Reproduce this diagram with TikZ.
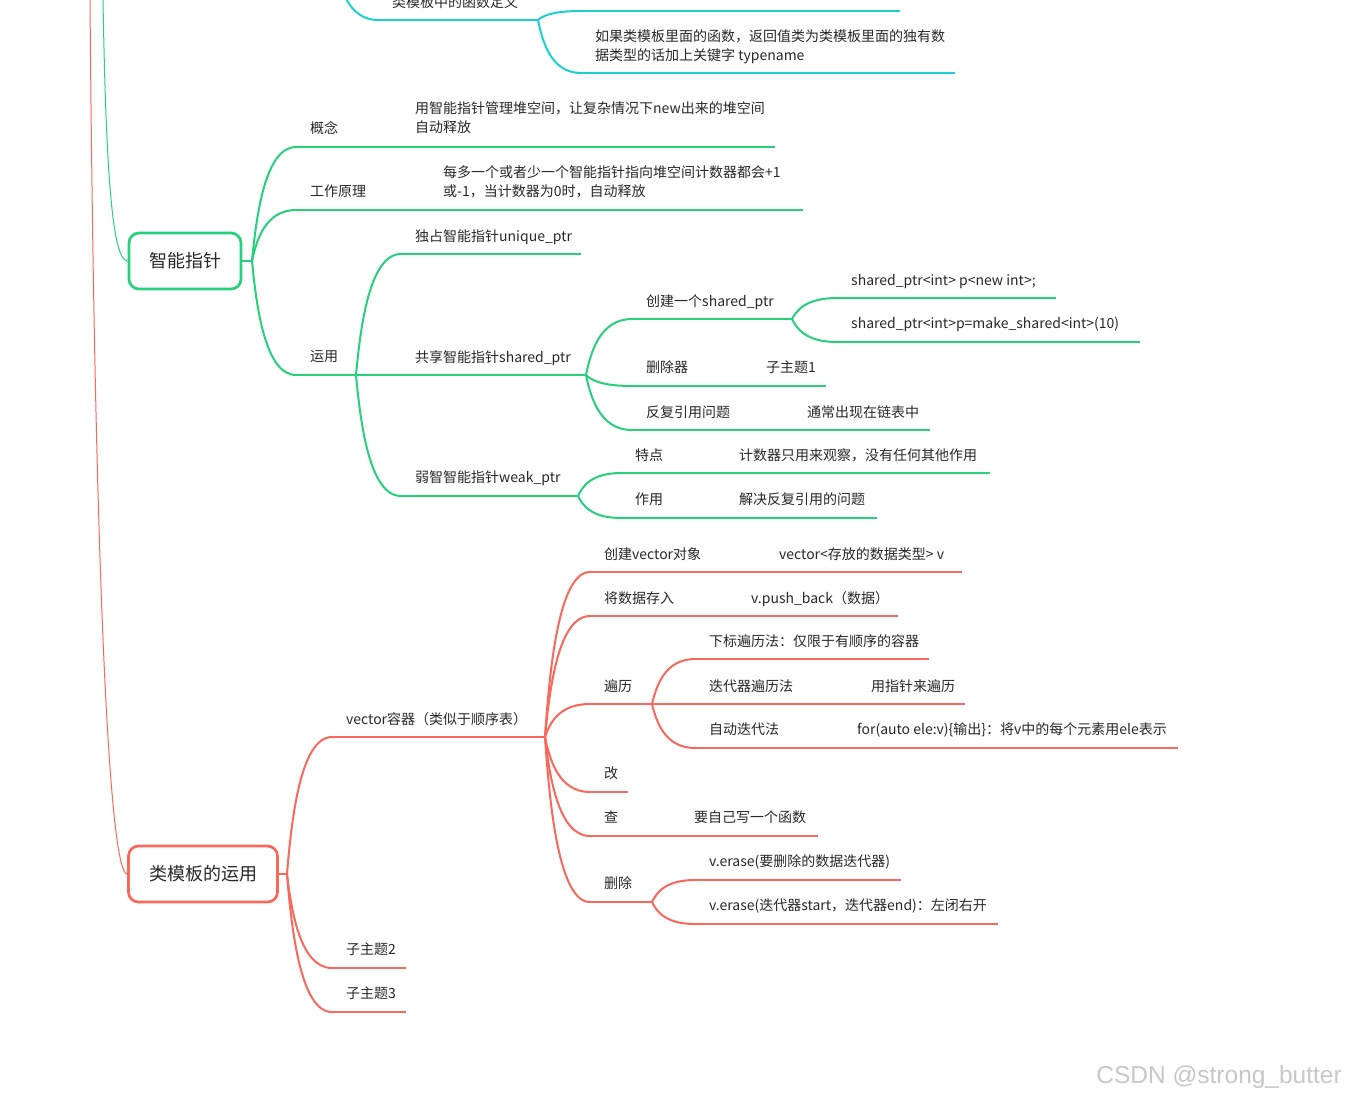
\documentclass[tikz,border=0pt]{standalone}
\usepackage{fontspec}
\setmainfont{Noto Sans CJK SC}
\newfontfamily\wmfont{Liberation Sans}
\usetikzlibrary{calc}
\definecolor{mgreen}{RGB}{38,208,124}
\definecolor{mred}{RGB}{250,104,92}
\definecolor{mcyan}{RGB}{28,208,210}
\definecolor{mtext}{RGB}{40,40,40}
\definecolor{wmgray}{RGB}{200,200,200}
\newcommand\mmlink[3]{\draw[#1] let \p1=(#2), \p2=(#3) in (\p1) .. controls ({\x1+0.1*(\x2-\x1)},{\y1+0.4*(\y2-\y1)}) and ({\x1+0.3*(\x2-\x1)},{\y2}) .. (\p2);}
\begin{document}
\begin{tikzpicture}[x=1pt,y=-1pt,
  tx/.style={anchor=base west, inner sep=0pt, text=mtext, font=\fontsize{14}{19}\selectfont},
  bx/.style={draw, rounded corners=10pt, line width=2.7pt, fill=white, text=mtext, font=\fontsize{18}{22}\selectfont, minimum height=56pt, inner sep=0pt},
  gline/.style={draw=mgreen, line width=2pt},
  rline/.style={draw=mred, line width=2pt},
  cline/.style={draw=mcyan, line width=2pt},
  rootg/.style={draw=mgreen, line width=1pt},
  rootr/.style={draw=mred, line width=1pt}]
\useasboundingbox (0,0) rectangle (1346,1096);
\fill[white] (0,0) rectangle (1346,1096);
\clip (0,0) rectangle (1346,1096);

% ---------- main boxes ----------
\node[bx, draw=mgreen, minimum width=112pt] (G) at (185,261) {智能指针};
\node[bx, draw=mred, minimum width=149pt] (R) at (203,874) {类模板的运用};

% ---------- root connectors ----------
\coordinate (rootG) at (103,0);
\coordinate (rootR) at (90,0);
\draw[rootg] (rootG) .. controls (106,170) and (112,261) .. (G.west);
\draw[rootr] (rootR) .. controls (95,600) and (110,874) .. (R.west);

% ---------- cyan (top, partial) ----------
\coordinate (cP) at (334,-40);
\coordinate (cf1) at (378,20); \coordinate (cf2) at (538,20);
\coordinate (cu1) at (581,11); \coordinate (cu2) at (900,11);
\coordinate (cd1) at (581,73); \coordinate (cd2) at (955,73);
\mmlink{cline}{cP}{cf1} \draw[cline] (cf1) -- (cf2);
\mmlink{cline}{cf2}{cu1} \draw[cline] (cu1) -- (cu2);
\mmlink{cline}{cf2}{cd1} \draw[cline] (cd1) -- (cd2);
\node[tx] (cft) at (392,7) {类模板中的函数定义};
\node[tx] (cdt1) at (595,41) {如果类模板里面的函数，返回值类为类模板里面的独有数};
\node[tx] (cdt2) at (595,60) {据类型的话加上关键字 typename};

% ---------- green: 智能指针 ----------
\coordinate (gB) at (252,261);
\draw[gline] (G.east) -- (gB);
\coordinate (gk1) at (296,147); \coordinate (gk2) at (775,147);
\coordinate (gg1) at (296,210); \coordinate (gg2) at (803,210);
\coordinate (gy1) at (296,375); \coordinate (gy2) at (356,375);
\mmlink{gline}{gB}{gk1} \draw[gline] (gk1) -- (gk2);
\mmlink{gline}{gB}{gg1} \draw[gline] (gg1) -- (gg2);
\mmlink{gline}{gB}{gy1} \draw[gline] (gy1) -- (gy2);
\node[tx] (gkt) at (310,133) {概念};
\node[tx] (gkc1) at (415,113) {用智能指针管理堆空间，让复杂情况下new出来的堆空间};
\node[tx] (gkc2) at (415,132) {自动释放};
\node[tx] (ggt) at (310,196) {工作原理};
\node[tx] (ggc1) at (443,177) {每多一个或者少一个智能指针指向堆空间计数器都会+1};
\node[tx] (ggc2) at (443,196) {或-1，当计数器为0时，自动释放};
\node[tx] (gyt) at (310,361) {运用};

\coordinate (gd1) at (401,254); \coordinate (gd2) at (581,254);
\coordinate (gs1) at (401,375); \coordinate (gs2) at (586,375);
\coordinate (gw1) at (401,496); \coordinate (gw2) at (578,496);
\mmlink{gline}{gy2}{gd1} \draw[gline] (gd1) -- (gd2);
\draw[gline] (gy2) -- (gs1) -- (gs2);
\mmlink{gline}{gy2}{gw1} \draw[gline] (gw1) -- (gw2);
\node[tx] (gdt) at (415,241) {独占智能指针unique\_ptr};
\node[tx] (gst) at (415,362) {共享智能指针shared\_ptr};
\node[tx] (gwt) at (415,482) {弱智智能指针weak\_ptr};

\coordinate (gc1) at (632,319); \coordinate (gc2) at (792,319);
\coordinate (gl1) at (632,386); \coordinate (gl2) at (826,386);
\coordinate (gf1) at (632,430); \coordinate (gf2) at (930,430);
\mmlink{gline}{gs2}{gc1} \draw[gline] (gc1) -- (gc2);
\mmlink{gline}{gs2}{gl1} \draw[gline] (gl1) -- (gl2);
\mmlink{gline}{gs2}{gf1} \draw[gline] (gf1) -- (gf2);
\node[tx] (gct) at (646,306) {创建一个shared\_ptr};
\node[tx] (glt) at (646,372) {删除器};
\node[tx] (glc) at (766,372) {子主题1};
\node[tx] (gft) at (646,417) {反复引用问题};
\node[tx] (gfc) at (807,417) {通常出现在链表中};

\coordinate (sp1a) at (837,298); \coordinate (sp1b) at (1056,298);
\coordinate (sp2a) at (837,342); \coordinate (sp2b) at (1140,342);
\mmlink{gline}{gc2}{sp1a} \draw[gline] (sp1a) -- (sp1b);
\mmlink{gline}{gc2}{sp2a} \draw[gline] (sp2a) -- (sp2b);
\node[tx] (sp1t) at (851,285) {shared\_ptr<int> p<new int>;};
\node[tx] (sp2t) at (851,328) {shared\_ptr<int>p=make\_shared<int>(10)};

\coordinate (gt1) at (621,473); \coordinate (gt2) at (990,473);
\coordinate (gz1) at (621,518); \coordinate (gz2) at (877,518);
\mmlink{gline}{gw2}{gt1} \draw[gline] (gt1) -- (gt2);
\mmlink{gline}{gw2}{gz1} \draw[gline] (gz1) -- (gz2);
\node[tx] (gtt) at (635,460) {特点};
\node[tx] (gtc) at (739,460) {计数器只用来观察，没有任何其他作用};
\node[tx] (gzt) at (635,504) {作用};
\node[tx] (gzc) at (739,504) {解决反复引用的问题};

% ---------- red: 类模板的运用 ----------
\coordinate (rB) at (287,874);
\draw[rline] (R.east) -- (rB);
\coordinate (rv1) at (332,737); \coordinate (rv2) at (545,737);
\coordinate (r2a) at (332,968); \coordinate (r2b) at (406,968);
\coordinate (r3a) at (332,1012); \coordinate (r3b) at (406,1012);
\mmlink{rline}{rB}{rv1} \draw[rline] (rv1) -- (rv2);
\mmlink{rline}{rB}{r2a} \draw[rline] (r2a) -- (r2b);
\mmlink{rline}{rB}{r3a} \draw[rline] (r3a) -- (r3b);
\node[tx] (rvt) at (346,724) {vector容器（类似于顺序表）};
\node[tx] (r2t) at (346,954) {子主题2};
\node[tx] (r3t) at (346,998) {子主题3};

\coordinate (rc1) at (590,572); \coordinate (rc2) at (962,572);
\coordinate (rj1) at (590,616); \coordinate (rj2) at (898,616);
\coordinate (rb1) at (590,704); \coordinate (rb2) at (652,704);
\coordinate (rg1) at (590,792); \coordinate (rg2) at (628,792);
\coordinate (rq1) at (590,836); \coordinate (rq2) at (818,836);
\coordinate (rs1) at (590,902); \coordinate (rs2) at (652,902);
\mmlink{rline}{rv2}{rc1} \draw[rline] (rc1) -- (rc2);
\mmlink{rline}{rv2}{rj1} \draw[rline] (rj1) -- (rj2);
\mmlink{rline}{rv2}{rb1} \draw[rline] (rb1) -- (rb2);
\mmlink{rline}{rv2}{rg1} \draw[rline] (rg1) -- (rg2);
\mmlink{rline}{rv2}{rq1} \draw[rline] (rq1) -- (rq2);
\mmlink{rline}{rv2}{rs1} \draw[rline] (rs1) -- (rs2);
\node[tx] (rct) at (604,559) {创建vector对象};
\node[tx] (rcc) at (779,559) {vector<存放的数据类型> v};
\node[tx] (rjt) at (604,603) {将数据存入};
\node[tx] (rjc) at (751,603) {v.push\_back（数据）};
\node[tx] (rbt) at (604,691) {遍历};
\node[tx] (rgt) at (604,778) {改};
\node[tx] (rqt) at (604,822) {查};
\node[tx] (rqc) at (694,822) {要自己写一个函数};
\node[tx] (rst) at (604,888) {删除};

\coordinate (rx1) at (695,659); \coordinate (rx2) at (929,659);
\coordinate (ri1) at (695,704); \coordinate (ri2) at (965,704);
\coordinate (ra1) at (695,748); \coordinate (ra2) at (1178,748);
\mmlink{rline}{rb2}{rx1} \draw[rline] (rx1) -- (rx2);
\draw[rline] (rb2) -- (ri1) -- (ri2);
\mmlink{rline}{rb2}{ra1} \draw[rline] (ra1) -- (ra2);
\node[tx] (rxt) at (709,646) {下标遍历法：仅限于有顺序的容器};
\node[tx] (rit) at (709,691) {迭代器遍历法};
\node[tx] (ric) at (871,691) {用指针来遍历};
\node[tx] (rat) at (709,734) {自动迭代法};
\node[tx] (rac) at (857,734) {for(auto ele:v)\{输出\}：将v中的每个元素用ele表示};

\coordinate (re1) at (695,880); \coordinate (re2) at (901,880);
\coordinate (rf1) at (695,924); \coordinate (rf2) at (998,924);
\mmlink{rline}{rs2}{re1} \draw[rline] (re1) -- (re2);
\mmlink{rline}{rs2}{rf1} \draw[rline] (rf1) -- (rf2);
\node[tx] (ret) at (709,866) {v.erase(要删除的数据迭代器)};
\node[tx] (rft) at (709,910) {v.erase(迭代器start，迭代器end)：左闭右开};

% ---------- watermark ----------
\node[anchor=base east, inner sep=0pt, text=wmgray, font=\wmfont\fontsize{24.5}{28}\selectfont] (wm) at (1342,1083) {CSDN @strong\_butter};
\end{tikzpicture}
\end{document}
